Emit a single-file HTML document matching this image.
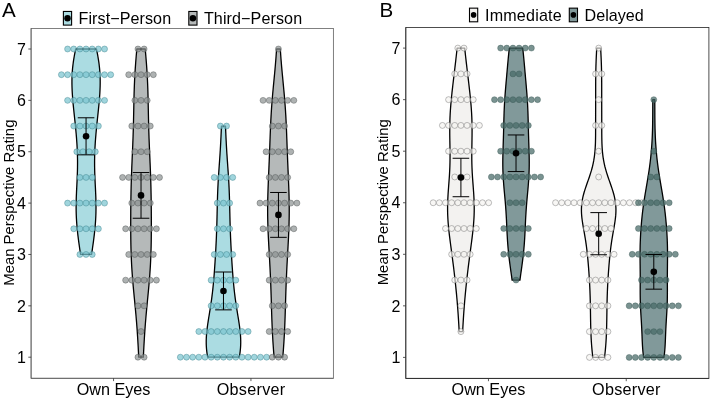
<!DOCTYPE html>
<html><head><meta charset="utf-8"><title>Figure</title>
<style>
html,body{margin:0;padding:0;background:#fff;}
svg{display:block;will-change:transform;opacity:0.999;font-family:"Liberation Sans",Arial,Helvetica,sans-serif;}
</style></head><body>
<svg width="711" height="401" viewBox="0 0 711 401">
<rect width="711" height="401" fill="#fff"/>
<path d="M80.54,254.47 L80.36,253.17 L80.17,251.88 L79.98,250.59 L79.79,249.3 L79.6,248.01 L79.42,246.71 L79.24,245.42 L79.06,244.13 L78.88,242.84 L78.7,241.54 L78.53,240.25 L78.36,238.96 L78.2,237.67 L78.04,236.38 L77.88,235.08 L77.73,233.79 L77.59,232.5 L77.45,231.21 L77.32,229.91 L77.19,228.62 L77.07,227.33 L76.95,226.04 L76.84,224.75 L76.74,223.45 L76.65,222.16 L76.56,220.87 L76.49,219.58 L76.41,218.28 L76.35,216.99 L76.3,215.7 L76.25,214.41 L76.21,213.11 L76.18,211.82 L76.15,210.53 L76.14,209.24 L76.13,207.95 L76.13,206.65 L76.13,205.36 L76.14,204.07 L76.16,202.78 L76.19,201.48 L76.22,200.19 L76.25,198.9 L76.29,197.61 L76.34,196.32 L76.39,195.02 L76.44,193.73 L76.5,192.44 L76.55,191.15 L76.62,189.85 L76.68,188.56 L76.74,187.27 L76.81,185.98 L76.87,184.69 L76.93,183.39 L77,182.1 L77.06,180.81 L77.12,179.52 L77.17,178.22 L77.23,176.93 L77.28,175.64 L77.32,174.35 L77.37,173.06 L77.41,171.76 L77.44,170.47 L77.47,169.18 L77.5,167.89 L77.51,166.59 L77.53,165.3 L77.54,164.01 L77.54,162.72 L77.54,161.43 L77.53,160.13 L77.51,158.84 L77.49,157.55 L77.46,156.26 L77.43,154.96 L77.39,153.67 L77.35,152.38 L77.3,151.09 L77.24,149.79 L77.18,148.5 L77.12,147.21 L77.05,145.92 L76.97,144.63 L76.89,143.33 L76.8,142.04 L76.71,140.75 L76.62,139.46 L76.52,138.16 L76.42,136.87 L76.31,135.58 L76.2,134.29 L76.09,133 L75.97,131.7 L75.85,130.41 L75.73,129.12 L75.6,127.83 L75.48,126.53 L75.35,125.24 L75.21,123.95 L75.08,122.66 L74.95,121.37 L74.81,120.07 L74.67,118.78 L74.54,117.49 L74.4,116.2 L74.26,114.9 L74.13,113.61 L73.99,112.32 L73.85,111.03 L73.72,109.74 L73.59,108.44 L73.46,107.15 L73.33,105.86 L73.2,104.57 L73.08,103.27 L72.97,101.98 L72.85,100.69 L72.74,99.4 L72.64,98.11 L72.54,96.81 L72.45,95.52 L72.36,94.23 L72.28,92.94 L72.21,91.64 L72.14,90.35 L72.09,89.06 L72.04,87.77 L72,86.48 L71.97,85.18 L71.95,83.89 L71.94,82.6 L71.94,81.31 L71.95,80.01 L71.97,78.72 L72.01,77.43 L72.05,76.14 L72.11,74.84 L72.18,73.55 L72.26,72.26 L72.35,70.97 L72.46,69.68 L72.57,68.38 L72.7,67.09 L72.85,65.8 L73,64.51 L73.17,63.21 L73.34,61.92 L73.53,60.63 L73.73,59.34 L73.94,58.05 L74.17,56.75 L74.4,55.46 L74.64,54.17 L74.89,52.88 L75.14,51.58 L75.41,50.29 L75.68,49 L96.44,49 L96.72,50.29 L96.98,51.58 L97.24,52.88 L97.49,54.17 L97.73,55.46 L97.96,56.75 L98.18,58.05 L98.39,59.34 L98.59,60.63 L98.78,61.92 L98.96,63.21 L99.13,64.51 L99.28,65.8 L99.42,67.09 L99.55,68.38 L99.67,69.68 L99.78,70.97 L99.87,72.26 L99.95,73.55 L100.02,74.84 L100.08,76.14 L100.12,77.43 L100.16,78.72 L100.18,80.01 L100.19,81.31 L100.19,82.6 L100.18,83.89 L100.16,85.18 L100.13,86.48 L100.09,87.77 L100.04,89.06 L99.98,90.35 L99.92,91.64 L99.85,92.94 L99.77,94.23 L99.68,95.52 L99.59,96.81 L99.49,98.11 L99.38,99.4 L99.28,100.69 L99.16,101.98 L99.04,103.27 L98.92,104.57 L98.8,105.86 L98.67,107.15 L98.54,108.44 L98.41,109.74 L98.27,111.03 L98.14,112.32 L98,113.61 L97.86,114.9 L97.73,116.2 L97.59,117.49 L97.45,118.78 L97.32,120.07 L97.18,121.37 L97.05,122.66 L96.91,123.95 L96.78,125.24 L96.65,126.53 L96.52,127.83 L96.4,129.12 L96.28,130.41 L96.16,131.7 L96.04,133 L95.93,134.29 L95.82,135.58 L95.71,136.87 L95.61,138.16 L95.51,139.46 L95.41,140.75 L95.32,142.04 L95.24,143.33 L95.16,144.63 L95.08,145.92 L95.01,147.21 L94.94,148.5 L94.88,149.79 L94.83,151.09 L94.78,152.38 L94.73,153.67 L94.7,154.96 L94.66,156.26 L94.64,157.55 L94.62,158.84 L94.6,160.13 L94.59,161.43 L94.59,162.72 L94.59,164.01 L94.6,165.3 L94.61,166.59 L94.63,167.89 L94.66,169.18 L94.69,170.47 L94.72,171.76 L94.76,173.06 L94.8,174.35 L94.85,175.64 L94.9,176.93 L94.95,178.22 L95.01,179.52 L95.07,180.81 L95.13,182.1 L95.19,183.39 L95.26,184.69 L95.32,185.98 L95.39,187.27 L95.45,188.56 L95.51,189.85 L95.57,191.15 L95.63,192.44 L95.69,193.73 L95.74,195.02 L95.79,196.32 L95.84,197.61 L95.88,198.9 L95.91,200.19 L95.94,201.48 L95.97,202.78 L95.98,204.07 L96,205.36 L96,206.65 L96,207.95 L95.99,209.24 L95.97,210.53 L95.95,211.82 L95.92,213.11 L95.88,214.41 L95.83,215.7 L95.78,216.99 L95.71,218.28 L95.64,219.58 L95.56,220.87 L95.48,222.16 L95.38,223.45 L95.28,224.75 L95.18,226.04 L95.06,227.33 L94.94,228.62 L94.81,229.91 L94.68,231.21 L94.54,232.5 L94.39,233.79 L94.24,235.08 L94.09,236.38 L93.93,237.67 L93.76,238.96 L93.6,240.25 L93.42,241.54 L93.25,242.84 L93.07,244.13 L92.89,245.42 L92.71,246.71 L92.52,248.01 L92.34,249.3 L92.15,250.59 L91.96,251.88 L91.77,253.17 L91.58,254.47Z" fill="#abdce2" stroke="#000" stroke-width="1.3" stroke-linejoin="round"/>
<path d="M138.71,357.2 L138.61,355.26 L138.52,353.32 L138.42,351.38 L138.32,349.45 L138.22,347.51 L138.11,345.57 L138.01,343.63 L137.89,341.69 L137.78,339.75 L137.66,337.82 L137.54,335.88 L137.41,333.94 L137.28,332 L137.15,330.06 L137.01,328.12 L136.86,326.19 L136.71,324.25 L136.56,322.31 L136.4,320.37 L136.24,318.43 L136.07,316.49 L135.9,314.56 L135.72,312.62 L135.55,310.68 L135.36,308.74 L135.18,306.8 L135,304.86 L134.81,302.93 L134.62,300.99 L134.43,299.05 L134.24,297.11 L134.05,295.17 L133.87,293.23 L133.68,291.3 L133.5,289.36 L133.32,287.42 L133.15,285.48 L132.98,283.54 L132.81,281.6 L132.65,279.67 L132.5,277.73 L132.35,275.79 L132.21,273.85 L132.07,271.91 L131.94,269.97 L131.82,268.04 L131.7,266.1 L131.6,264.16 L131.5,262.22 L131.4,260.28 L131.32,258.34 L131.24,256.41 L131.16,254.47 L131.1,252.53 L131.04,250.59 L130.98,248.65 L130.94,246.71 L130.89,244.77 L130.86,242.84 L130.83,240.9 L130.8,238.96 L130.78,237.02 L130.76,235.08 L130.74,233.14 L130.73,231.21 L130.72,229.27 L130.72,227.33 L130.71,225.39 L130.71,223.45 L130.72,221.51 L130.72,219.58 L130.73,217.64 L130.74,215.7 L130.75,213.76 L130.76,211.82 L130.77,209.88 L130.79,207.95 L130.81,206.01 L130.83,204.07 L130.85,202.13 L130.88,200.19 L130.91,198.25 L130.94,196.32 L130.98,194.38 L131.01,192.44 L131.05,190.5 L131.1,188.56 L131.14,186.62 L131.19,184.69 L131.25,182.75 L131.31,180.81 L131.37,178.87 L131.43,176.93 L131.5,174.99 L131.57,173.06 L131.64,171.12 L131.72,169.18 L131.79,167.24 L131.87,165.3 L131.96,163.36 L132.04,161.43 L132.12,159.49 L132.21,157.55 L132.29,155.61 L132.38,153.67 L132.46,151.73 L132.55,149.79 L132.63,147.86 L132.71,145.92 L132.79,143.98 L132.86,142.04 L132.94,140.1 L133.01,138.16 L133.08,136.23 L133.14,134.29 L133.21,132.35 L133.27,130.41 L133.32,128.47 L133.38,126.53 L133.43,124.6 L133.47,122.66 L133.52,120.72 L133.56,118.78 L133.6,116.84 L133.64,114.9 L133.68,112.97 L133.72,111.03 L133.76,109.09 L133.79,107.15 L133.83,105.21 L133.87,103.27 L133.91,101.34 L133.95,99.4 L134,97.46 L134.05,95.52 L134.1,93.58 L134.16,91.64 L134.22,89.71 L134.28,87.77 L134.36,85.83 L134.43,83.89 L134.52,81.95 L134.6,80.01 L134.7,78.08 L134.8,76.14 L134.91,74.2 L135.02,72.26 L135.15,70.32 L135.27,68.38 L135.41,66.45 L135.55,64.51 L135.69,62.57 L135.84,60.63 L136,58.69 L136.16,56.75 L136.32,54.82 L136.49,52.88 L136.66,50.94 L136.83,49 L145.22,49 L145.39,50.94 L145.56,52.88 L145.73,54.82 L145.89,56.75 L146.05,58.69 L146.21,60.63 L146.36,62.57 L146.51,64.51 L146.65,66.45 L146.78,68.38 L146.91,70.32 L147.03,72.26 L147.14,74.2 L147.25,76.14 L147.36,78.08 L147.45,80.01 L147.54,81.95 L147.62,83.89 L147.7,85.83 L147.77,87.77 L147.84,89.71 L147.9,91.64 L147.95,93.58 L148.01,95.52 L148.05,97.46 L148.1,99.4 L148.14,101.34 L148.18,103.27 L148.22,105.21 L148.26,107.15 L148.3,109.09 L148.34,111.03 L148.37,112.97 L148.41,114.9 L148.45,116.84 L148.49,118.78 L148.54,120.72 L148.58,122.66 L148.63,124.6 L148.68,126.53 L148.73,128.47 L148.79,130.41 L148.85,132.35 L148.91,134.29 L148.98,136.23 L149.04,138.16 L149.12,140.1 L149.19,142.04 L149.27,143.98 L149.35,145.92 L149.43,147.86 L149.51,149.79 L149.59,151.73 L149.68,153.67 L149.76,155.61 L149.85,157.55 L149.93,159.49 L150.01,161.43 L150.1,163.36 L150.18,165.3 L150.26,167.24 L150.34,169.18 L150.41,171.12 L150.49,173.06 L150.56,174.99 L150.62,176.93 L150.69,178.87 L150.75,180.81 L150.81,182.75 L150.86,184.69 L150.91,186.62 L150.96,188.56 L151,190.5 L151.04,192.44 L151.08,194.38 L151.11,196.32 L151.15,198.25 L151.17,200.19 L151.2,202.13 L151.22,204.07 L151.24,206.01 L151.26,207.95 L151.28,209.88 L151.3,211.82 L151.31,213.76 L151.32,215.7 L151.33,217.64 L151.33,219.58 L151.34,221.51 L151.34,223.45 L151.34,225.39 L151.34,227.33 L151.33,229.27 L151.32,231.21 L151.31,233.14 L151.3,235.08 L151.28,237.02 L151.26,238.96 L151.23,240.9 L151.2,242.84 L151.16,244.77 L151.12,246.71 L151.07,248.65 L151.02,250.59 L150.96,252.53 L150.89,254.47 L150.82,256.41 L150.74,258.34 L150.65,260.28 L150.56,262.22 L150.46,264.16 L150.35,266.1 L150.24,268.04 L150.11,269.97 L149.98,271.91 L149.85,273.85 L149.71,275.79 L149.56,277.73 L149.4,279.67 L149.24,281.6 L149.08,283.54 L148.91,285.48 L148.73,287.42 L148.55,289.36 L148.37,291.3 L148.19,293.23 L148,295.17 L147.81,297.11 L147.62,299.05 L147.43,300.99 L147.25,302.93 L147.06,304.86 L146.87,306.8 L146.69,308.74 L146.51,310.68 L146.33,312.62 L146.16,314.56 L145.98,316.49 L145.82,318.43 L145.65,320.37 L145.5,322.31 L145.34,324.25 L145.19,326.19 L145.05,328.12 L144.91,330.06 L144.77,332 L144.64,333.94 L144.52,335.88 L144.39,337.82 L144.28,339.75 L144.16,341.69 L144.05,343.63 L143.94,345.57 L143.84,347.51 L143.73,349.45 L143.63,351.38 L143.54,353.32 L143.44,355.26 L143.35,357.2Z" fill="#b5b9b9" stroke="#000" stroke-width="1.3" stroke-linejoin="round"/>
<path d="M207.68,357.2 L207.41,355.75 L207.17,354.29 L206.96,352.84 L206.77,351.38 L206.61,349.93 L206.48,348.48 L206.38,347.02 L206.3,345.57 L206.25,344.12 L206.23,342.66 L206.23,341.21 L206.25,339.75 L206.3,338.3 L206.37,336.85 L206.46,335.39 L206.57,333.94 L206.7,332.49 L206.85,331.03 L207.01,329.58 L207.19,328.12 L207.38,326.67 L207.58,325.22 L207.79,323.76 L208.01,322.31 L208.23,320.86 L208.46,319.4 L208.69,317.95 L208.93,316.49 L209.17,315.04 L209.4,313.59 L209.64,312.13 L209.88,310.68 L210.11,309.23 L210.34,307.77 L210.56,306.32 L210.79,304.86 L211,303.41 L211.21,301.96 L211.42,300.5 L211.62,299.05 L211.81,297.6 L212,296.14 L212.18,294.69 L212.36,293.23 L212.53,291.78 L212.7,290.33 L212.85,288.87 L213.01,287.42 L213.15,285.97 L213.3,284.51 L213.44,283.06 L213.57,281.6 L213.7,280.15 L213.82,278.7 L213.94,277.24 L214.06,275.79 L214.18,274.33 L214.29,272.88 L214.39,271.43 L214.5,269.97 L214.6,268.52 L214.71,267.07 L214.8,265.61 L214.9,264.16 L215,262.7 L215.09,261.25 L215.18,259.8 L215.27,258.34 L215.36,256.89 L215.45,255.44 L215.53,253.98 L215.61,252.53 L215.7,251.07 L215.78,249.62 L215.85,248.17 L215.93,246.71 L216,245.26 L216.08,243.81 L216.15,242.35 L216.22,240.9 L216.28,239.44 L216.35,237.99 L216.41,236.54 L216.47,235.08 L216.52,233.63 L216.58,232.18 L216.63,230.72 L216.68,229.27 L216.73,227.81 L216.77,226.36 L216.82,224.91 L216.86,223.45 L216.9,222 L216.94,220.55 L216.97,219.09 L217.01,217.64 L217.04,216.18 L217.08,214.73 L217.11,213.28 L217.14,211.82 L217.17,210.37 L217.21,208.92 L217.24,207.46 L217.27,206.01 L217.31,204.55 L217.34,203.1 L217.38,201.65 L217.42,200.19 L217.46,198.74 L217.51,197.28 L217.55,195.83 L217.6,194.38 L217.66,192.92 L217.71,191.47 L217.77,190.02 L217.83,188.56 L217.9,187.11 L217.97,185.65 L218.05,184.2 L218.12,182.75 L218.2,181.29 L218.29,179.84 L218.37,178.39 L218.46,176.93 L218.56,175.48 L218.65,174.02 L218.75,172.57 L218.85,171.12 L218.95,169.66 L219.05,168.21 L219.15,166.76 L219.25,165.3 L219.36,163.85 L219.46,162.39 L219.56,160.94 L219.66,159.49 L219.76,158.03 L219.86,156.58 L219.96,155.13 L220.05,153.67 L220.14,152.22 L220.24,150.76 L220.32,149.31 L220.41,147.86 L220.49,146.4 L220.57,144.95 L220.65,143.5 L220.73,142.04 L220.8,140.59 L220.87,139.13 L220.94,137.68 L221.01,136.23 L221.07,134.77 L221.14,133.32 L221.2,131.87 L221.26,130.41 L221.32,128.96 L221.38,127.5 L221.44,126.05 L225.5,126.05 L225.56,127.5 L225.62,128.96 L225.68,130.41 L225.74,131.87 L225.81,133.32 L225.87,134.77 L225.94,136.23 L226,137.68 L226.07,139.13 L226.14,140.59 L226.22,142.04 L226.29,143.5 L226.37,144.95 L226.45,146.4 L226.54,147.86 L226.62,149.31 L226.71,150.76 L226.8,152.22 L226.89,153.67 L226.99,155.13 L227.09,156.58 L227.18,158.03 L227.28,159.49 L227.38,160.94 L227.49,162.39 L227.59,163.85 L227.69,165.3 L227.79,166.76 L227.9,168.21 L228,169.66 L228.1,171.12 L228.2,172.57 L228.29,174.02 L228.39,175.48 L228.48,176.93 L228.57,178.39 L228.66,179.84 L228.74,181.29 L228.82,182.75 L228.9,184.2 L228.97,185.65 L229.04,187.11 L229.11,188.56 L229.17,190.02 L229.23,191.47 L229.29,192.92 L229.34,194.38 L229.39,195.83 L229.44,197.28 L229.48,198.74 L229.52,200.19 L229.56,201.65 L229.6,203.1 L229.64,204.55 L229.67,206.01 L229.71,207.46 L229.74,208.92 L229.77,210.37 L229.8,211.82 L229.84,213.28 L229.87,214.73 L229.9,216.18 L229.94,217.64 L229.97,219.09 L230.01,220.55 L230.05,222 L230.09,223.45 L230.13,224.91 L230.17,226.36 L230.22,227.81 L230.27,229.27 L230.32,230.72 L230.37,232.18 L230.42,233.63 L230.48,235.08 L230.54,236.54 L230.6,237.99 L230.66,239.44 L230.73,240.9 L230.8,242.35 L230.87,243.81 L230.94,245.26 L231.02,246.71 L231.09,248.17 L231.17,249.62 L231.25,251.07 L231.33,252.53 L231.41,253.98 L231.5,255.44 L231.59,256.89 L231.67,258.34 L231.76,259.8 L231.86,261.25 L231.95,262.7 L232.04,264.16 L232.14,265.61 L232.24,267.07 L232.34,268.52 L232.44,269.97 L232.55,271.43 L232.66,272.88 L232.77,274.33 L232.88,275.79 L233,277.24 L233.12,278.7 L233.25,280.15 L233.38,281.6 L233.51,283.06 L233.65,284.51 L233.79,285.97 L233.94,287.42 L234.09,288.87 L234.25,290.33 L234.41,291.78 L234.58,293.23 L234.76,294.69 L234.94,296.14 L235.13,297.6 L235.33,299.05 L235.53,300.5 L235.73,301.96 L235.94,303.41 L236.16,304.86 L236.38,306.32 L236.61,307.77 L236.84,309.23 L237.07,310.68 L237.31,312.13 L237.54,313.59 L237.78,315.04 L238.02,316.49 L238.25,317.95 L238.49,319.4 L238.72,320.86 L238.94,322.31 L239.16,323.76 L239.37,325.22 L239.57,326.67 L239.75,328.12 L239.93,329.58 L240.09,331.03 L240.24,332.49 L240.37,333.94 L240.48,335.39 L240.58,336.85 L240.65,338.3 L240.69,339.75 L240.72,341.21 L240.72,342.66 L240.7,344.12 L240.65,345.57 L240.57,347.02 L240.46,348.48 L240.33,349.93 L240.17,351.38 L239.99,352.84 L239.77,354.29 L239.53,355.75 L239.27,357.2Z" fill="#abdce2" stroke="#000" stroke-width="1.3" stroke-linejoin="round"/>
<path d="M274.07,357.2 L273.92,355.26 L273.77,353.32 L273.62,351.38 L273.47,349.45 L273.33,347.51 L273.2,345.57 L273.07,343.63 L272.94,341.69 L272.82,339.75 L272.71,337.82 L272.6,335.88 L272.49,333.94 L272.4,332 L272.3,330.06 L272.21,328.12 L272.13,326.19 L272.05,324.25 L271.97,322.31 L271.9,320.37 L271.83,318.43 L271.77,316.49 L271.7,314.56 L271.64,312.62 L271.58,310.68 L271.52,308.74 L271.47,306.8 L271.41,304.86 L271.35,302.93 L271.29,300.99 L271.24,299.05 L271.18,297.11 L271.12,295.17 L271.05,293.23 L270.99,291.3 L270.92,289.36 L270.86,287.42 L270.79,285.48 L270.71,283.54 L270.64,281.6 L270.56,279.67 L270.47,277.73 L270.39,275.79 L270.3,273.85 L270.21,271.91 L270.12,269.97 L270.02,268.04 L269.92,266.1 L269.82,264.16 L269.72,262.22 L269.61,260.28 L269.51,258.34 L269.4,256.41 L269.29,254.47 L269.18,252.53 L269.07,250.59 L268.96,248.65 L268.86,246.71 L268.75,244.77 L268.65,242.84 L268.54,240.9 L268.45,238.96 L268.35,237.02 L268.26,235.08 L268.17,233.14 L268.09,231.21 L268.02,229.27 L267.95,227.33 L267.88,225.39 L267.83,223.45 L267.78,221.51 L267.74,219.58 L267.7,217.64 L267.67,215.7 L267.66,213.76 L267.65,211.82 L267.64,209.88 L267.65,207.95 L267.66,206.01 L267.68,204.07 L267.71,202.13 L267.74,200.19 L267.78,198.25 L267.83,196.32 L267.88,194.38 L267.94,192.44 L268,190.5 L268.07,188.56 L268.14,186.62 L268.21,184.69 L268.29,182.75 L268.37,180.81 L268.45,178.87 L268.53,176.93 L268.61,174.99 L268.7,173.06 L268.78,171.12 L268.87,169.18 L268.95,167.24 L269.03,165.3 L269.11,163.36 L269.19,161.43 L269.27,159.49 L269.35,157.55 L269.43,155.61 L269.5,153.67 L269.58,151.73 L269.65,149.79 L269.72,147.86 L269.8,145.92 L269.87,143.98 L269.94,142.04 L270.01,140.1 L270.08,138.16 L270.15,136.23 L270.22,134.29 L270.3,132.35 L270.38,130.41 L270.46,128.47 L270.54,126.53 L270.63,124.6 L270.72,122.66 L270.81,120.72 L270.91,118.78 L271.02,116.84 L271.13,114.9 L271.24,112.97 L271.36,111.03 L271.49,109.09 L271.62,107.15 L271.76,105.21 L271.91,103.27 L272.06,101.34 L272.22,99.4 L272.38,97.46 L272.54,95.52 L272.71,93.58 L272.89,91.64 L273.07,89.71 L273.25,87.77 L273.43,85.83 L273.62,83.89 L273.8,81.95 L273.99,80.01 L274.18,78.08 L274.36,76.14 L274.55,74.2 L274.73,72.26 L274.91,70.32 L275.08,68.38 L275.25,66.45 L275.42,64.51 L275.58,62.57 L275.74,60.63 L275.89,58.69 L276.04,56.75 L276.18,54.82 L276.32,52.88 L276.45,50.94 L276.57,49 L280.3,49 L280.43,50.94 L280.56,52.88 L280.69,54.82 L280.83,56.75 L280.98,58.69 L281.13,60.63 L281.29,62.57 L281.45,64.51 L281.62,66.45 L281.79,68.38 L281.97,70.32 L282.15,72.26 L282.33,74.2 L282.51,76.14 L282.7,78.08 L282.88,80.01 L283.07,81.95 L283.25,83.89 L283.44,85.83 L283.62,87.77 L283.8,89.71 L283.98,91.64 L284.16,93.58 L284.33,95.52 L284.5,97.46 L284.66,99.4 L284.81,101.34 L284.96,103.27 L285.11,105.21 L285.25,107.15 L285.38,109.09 L285.51,111.03 L285.63,112.97 L285.75,114.9 L285.86,116.84 L285.96,118.78 L286.06,120.72 L286.16,122.66 L286.25,124.6 L286.33,126.53 L286.42,128.47 L286.5,130.41 L286.57,132.35 L286.65,134.29 L286.72,136.23 L286.79,138.16 L286.87,140.1 L286.94,142.04 L287.01,143.98 L287.08,145.92 L287.15,147.86 L287.22,149.79 L287.29,151.73 L287.37,153.67 L287.44,155.61 L287.52,157.55 L287.6,159.49 L287.68,161.43 L287.76,163.36 L287.84,165.3 L287.92,167.24 L288.01,169.18 L288.09,171.12 L288.17,173.06 L288.26,174.99 L288.34,176.93 L288.42,178.87 L288.51,180.81 L288.58,182.75 L288.66,184.69 L288.74,186.62 L288.81,188.56 L288.87,190.5 L288.94,192.44 L288.99,194.38 L289.05,196.32 L289.09,198.25 L289.13,200.19 L289.17,202.13 L289.19,204.07 L289.21,206.01 L289.23,207.95 L289.23,209.88 L289.23,211.82 L289.22,213.76 L289.2,215.7 L289.17,217.64 L289.14,219.58 L289.09,221.51 L289.05,223.45 L288.99,225.39 L288.93,227.33 L288.86,229.27 L288.78,231.21 L288.7,233.14 L288.61,235.08 L288.52,237.02 L288.43,238.96 L288.33,240.9 L288.23,242.84 L288.12,244.77 L288.02,246.71 L287.91,248.65 L287.8,250.59 L287.69,252.53 L287.58,254.47 L287.48,256.41 L287.37,258.34 L287.26,260.28 L287.16,262.22 L287.05,264.16 L286.95,266.1 L286.85,268.04 L286.76,269.97 L286.66,271.91 L286.57,273.85 L286.48,275.79 L286.4,277.73 L286.32,279.67 L286.24,281.6 L286.16,283.54 L286.09,285.48 L286.02,287.42 L285.95,289.36 L285.88,291.3 L285.82,293.23 L285.76,295.17 L285.7,297.11 L285.64,299.05 L285.58,300.99 L285.52,302.93 L285.46,304.86 L285.41,306.8 L285.35,308.74 L285.29,310.68 L285.23,312.62 L285.17,314.56 L285.11,316.49 L285.04,318.43 L284.97,320.37 L284.9,322.31 L284.82,324.25 L284.74,326.19 L284.66,328.12 L284.57,330.06 L284.48,332 L284.38,333.94 L284.27,335.88 L284.16,337.82 L284.05,339.75 L283.93,341.69 L283.81,343.63 L283.68,345.57 L283.54,347.51 L283.4,349.45 L283.26,351.38 L283.11,353.32 L282.95,355.26 L282.8,357.2Z" fill="#b5b9b9" stroke="#000" stroke-width="1.3" stroke-linejoin="round"/>
<g fill="rgba(124,197,208,0.72)" stroke="rgba(55,125,135,0.7)" stroke-width="0.6">
<circle cx="67.58" cy="49" r="2.98"/>
<circle cx="73.74" cy="49" r="2.98"/>
<circle cx="79.9" cy="49" r="2.98"/>
<circle cx="86.06" cy="49" r="2.98"/>
<circle cx="92.22" cy="49" r="2.98"/>
<circle cx="98.38" cy="49" r="2.98"/>
<circle cx="104.54" cy="49" r="2.98"/>
<circle cx="61.42" cy="74.68" r="2.98"/>
<circle cx="67.58" cy="74.68" r="2.98"/>
<circle cx="73.74" cy="74.68" r="2.98"/>
<circle cx="79.9" cy="74.68" r="2.98"/>
<circle cx="86.06" cy="74.68" r="2.98"/>
<circle cx="92.22" cy="74.68" r="2.98"/>
<circle cx="98.38" cy="74.68" r="2.98"/>
<circle cx="104.54" cy="74.68" r="2.98"/>
<circle cx="110.7" cy="74.68" r="2.98"/>
<circle cx="67.58" cy="100.37" r="2.98"/>
<circle cx="73.74" cy="100.37" r="2.98"/>
<circle cx="79.9" cy="100.37" r="2.98"/>
<circle cx="86.06" cy="100.37" r="2.98"/>
<circle cx="92.22" cy="100.37" r="2.98"/>
<circle cx="98.38" cy="100.37" r="2.98"/>
<circle cx="104.54" cy="100.37" r="2.98"/>
<circle cx="73.74" cy="126.05" r="2.98"/>
<circle cx="79.9" cy="126.05" r="2.98"/>
<circle cx="86.06" cy="126.05" r="2.98"/>
<circle cx="92.22" cy="126.05" r="2.98"/>
<circle cx="98.38" cy="126.05" r="2.98"/>
<circle cx="76.82" cy="151.73" r="2.98"/>
<circle cx="82.98" cy="151.73" r="2.98"/>
<circle cx="89.14" cy="151.73" r="2.98"/>
<circle cx="95.3" cy="151.73" r="2.98"/>
<circle cx="79.9" cy="177.42" r="2.98"/>
<circle cx="86.06" cy="177.42" r="2.98"/>
<circle cx="92.22" cy="177.42" r="2.98"/>
<circle cx="67.58" cy="203.1" r="2.98"/>
<circle cx="73.74" cy="203.1" r="2.98"/>
<circle cx="79.9" cy="203.1" r="2.98"/>
<circle cx="86.06" cy="203.1" r="2.98"/>
<circle cx="92.22" cy="203.1" r="2.98"/>
<circle cx="98.38" cy="203.1" r="2.98"/>
<circle cx="104.54" cy="203.1" r="2.98"/>
<circle cx="73.74" cy="228.78" r="2.98"/>
<circle cx="79.9" cy="228.78" r="2.98"/>
<circle cx="86.06" cy="228.78" r="2.98"/>
<circle cx="92.22" cy="228.78" r="2.98"/>
<circle cx="98.38" cy="228.78" r="2.98"/>
<circle cx="79.9" cy="254.47" r="2.98"/>
<circle cx="86.06" cy="254.47" r="2.98"/>
<circle cx="92.22" cy="254.47" r="2.98"/>
</g>
<g fill="rgba(140,146,146,0.7)" stroke="rgba(75,80,80,0.7)" stroke-width="0.6">
<circle cx="137.95" cy="49" r="2.98"/>
<circle cx="144.11" cy="49" r="2.98"/>
<circle cx="128.71" cy="74.68" r="2.98"/>
<circle cx="134.87" cy="74.68" r="2.98"/>
<circle cx="141.03" cy="74.68" r="2.98"/>
<circle cx="147.19" cy="74.68" r="2.98"/>
<circle cx="153.35" cy="74.68" r="2.98"/>
<circle cx="134.87" cy="100.37" r="2.98"/>
<circle cx="141.03" cy="100.37" r="2.98"/>
<circle cx="147.19" cy="100.37" r="2.98"/>
<circle cx="131.79" cy="126.05" r="2.98"/>
<circle cx="137.95" cy="126.05" r="2.98"/>
<circle cx="144.11" cy="126.05" r="2.98"/>
<circle cx="150.27" cy="126.05" r="2.98"/>
<circle cx="134.87" cy="151.73" r="2.98"/>
<circle cx="141.03" cy="151.73" r="2.98"/>
<circle cx="147.19" cy="151.73" r="2.98"/>
<circle cx="122.55" cy="177.42" r="2.98"/>
<circle cx="128.71" cy="177.42" r="2.98"/>
<circle cx="134.87" cy="177.42" r="2.98"/>
<circle cx="141.03" cy="177.42" r="2.98"/>
<circle cx="147.19" cy="177.42" r="2.98"/>
<circle cx="153.35" cy="177.42" r="2.98"/>
<circle cx="159.51" cy="177.42" r="2.98"/>
<circle cx="131.79" cy="203.1" r="2.98"/>
<circle cx="137.95" cy="203.1" r="2.98"/>
<circle cx="144.11" cy="203.1" r="2.98"/>
<circle cx="150.27" cy="203.1" r="2.98"/>
<circle cx="125.63" cy="228.78" r="2.98"/>
<circle cx="131.79" cy="228.78" r="2.98"/>
<circle cx="137.95" cy="228.78" r="2.98"/>
<circle cx="144.11" cy="228.78" r="2.98"/>
<circle cx="150.27" cy="228.78" r="2.98"/>
<circle cx="156.43" cy="228.78" r="2.98"/>
<circle cx="128.71" cy="254.47" r="2.98"/>
<circle cx="134.87" cy="254.47" r="2.98"/>
<circle cx="141.03" cy="254.47" r="2.98"/>
<circle cx="147.19" cy="254.47" r="2.98"/>
<circle cx="153.35" cy="254.47" r="2.98"/>
<circle cx="125.63" cy="280.15" r="2.98"/>
<circle cx="131.79" cy="280.15" r="2.98"/>
<circle cx="137.95" cy="280.15" r="2.98"/>
<circle cx="144.11" cy="280.15" r="2.98"/>
<circle cx="150.27" cy="280.15" r="2.98"/>
<circle cx="156.43" cy="280.15" r="2.98"/>
<circle cx="137.95" cy="305.83" r="2.98"/>
<circle cx="144.11" cy="305.83" r="2.98"/>
<circle cx="141.03" cy="331.52" r="2.98"/>
<circle cx="137.95" cy="357.2" r="2.98"/>
<circle cx="144.11" cy="357.2" r="2.98"/>
</g>
<g fill="rgba(124,197,208,0.72)" stroke="rgba(55,125,135,0.7)" stroke-width="0.6">
<circle cx="220.39" cy="126.05" r="2.98"/>
<circle cx="226.55" cy="126.05" r="2.98"/>
<circle cx="214.23" cy="177.42" r="2.98"/>
<circle cx="220.39" cy="177.42" r="2.98"/>
<circle cx="226.55" cy="177.42" r="2.98"/>
<circle cx="232.71" cy="177.42" r="2.98"/>
<circle cx="217.31" cy="203.1" r="2.98"/>
<circle cx="223.47" cy="203.1" r="2.98"/>
<circle cx="229.63" cy="203.1" r="2.98"/>
<circle cx="217.31" cy="228.78" r="2.98"/>
<circle cx="223.47" cy="228.78" r="2.98"/>
<circle cx="229.63" cy="228.78" r="2.98"/>
<circle cx="214.23" cy="254.47" r="2.98"/>
<circle cx="220.39" cy="254.47" r="2.98"/>
<circle cx="226.55" cy="254.47" r="2.98"/>
<circle cx="232.71" cy="254.47" r="2.98"/>
<circle cx="211.15" cy="280.15" r="2.98"/>
<circle cx="217.31" cy="280.15" r="2.98"/>
<circle cx="223.47" cy="280.15" r="2.98"/>
<circle cx="229.63" cy="280.15" r="2.98"/>
<circle cx="235.79" cy="280.15" r="2.98"/>
<circle cx="211.15" cy="305.83" r="2.98"/>
<circle cx="217.31" cy="305.83" r="2.98"/>
<circle cx="223.47" cy="305.83" r="2.98"/>
<circle cx="229.63" cy="305.83" r="2.98"/>
<circle cx="235.79" cy="305.83" r="2.98"/>
<circle cx="198.83" cy="331.52" r="2.98"/>
<circle cx="204.99" cy="331.52" r="2.98"/>
<circle cx="211.15" cy="331.52" r="2.98"/>
<circle cx="217.31" cy="331.52" r="2.98"/>
<circle cx="223.47" cy="331.52" r="2.98"/>
<circle cx="229.63" cy="331.52" r="2.98"/>
<circle cx="235.79" cy="331.52" r="2.98"/>
<circle cx="241.95" cy="331.52" r="2.98"/>
<circle cx="248.11" cy="331.52" r="2.98"/>
<circle cx="180.35" cy="357.2" r="2.98"/>
<circle cx="186.51" cy="357.2" r="2.98"/>
<circle cx="192.67" cy="357.2" r="2.98"/>
<circle cx="198.83" cy="357.2" r="2.98"/>
<circle cx="204.99" cy="357.2" r="2.98"/>
<circle cx="211.15" cy="357.2" r="2.98"/>
<circle cx="217.31" cy="357.2" r="2.98"/>
<circle cx="223.47" cy="357.2" r="2.98"/>
<circle cx="229.63" cy="357.2" r="2.98"/>
<circle cx="235.79" cy="357.2" r="2.98"/>
<circle cx="241.95" cy="357.2" r="2.98"/>
<circle cx="248.11" cy="357.2" r="2.98"/>
<circle cx="254.27" cy="357.2" r="2.98"/>
<circle cx="260.43" cy="357.2" r="2.98"/>
<circle cx="266.59" cy="357.2" r="2.98"/>
</g>
<g fill="rgba(140,146,146,0.7)" stroke="rgba(75,80,80,0.7)" stroke-width="0.6">
<circle cx="278.44" cy="49" r="2.98"/>
<circle cx="263.04" cy="100.37" r="2.98"/>
<circle cx="269.2" cy="100.37" r="2.98"/>
<circle cx="275.36" cy="100.37" r="2.98"/>
<circle cx="281.52" cy="100.37" r="2.98"/>
<circle cx="287.68" cy="100.37" r="2.98"/>
<circle cx="293.84" cy="100.37" r="2.98"/>
<circle cx="272.28" cy="126.05" r="2.98"/>
<circle cx="278.44" cy="126.05" r="2.98"/>
<circle cx="284.6" cy="126.05" r="2.98"/>
<circle cx="266.12" cy="151.73" r="2.98"/>
<circle cx="272.28" cy="151.73" r="2.98"/>
<circle cx="278.44" cy="151.73" r="2.98"/>
<circle cx="284.6" cy="151.73" r="2.98"/>
<circle cx="290.76" cy="151.73" r="2.98"/>
<circle cx="269.2" cy="177.42" r="2.98"/>
<circle cx="275.36" cy="177.42" r="2.98"/>
<circle cx="281.52" cy="177.42" r="2.98"/>
<circle cx="287.68" cy="177.42" r="2.98"/>
<circle cx="259.96" cy="203.1" r="2.98"/>
<circle cx="266.12" cy="203.1" r="2.98"/>
<circle cx="272.28" cy="203.1" r="2.98"/>
<circle cx="278.44" cy="203.1" r="2.98"/>
<circle cx="284.6" cy="203.1" r="2.98"/>
<circle cx="290.76" cy="203.1" r="2.98"/>
<circle cx="296.92" cy="203.1" r="2.98"/>
<circle cx="263.04" cy="228.78" r="2.98"/>
<circle cx="269.2" cy="228.78" r="2.98"/>
<circle cx="275.36" cy="228.78" r="2.98"/>
<circle cx="281.52" cy="228.78" r="2.98"/>
<circle cx="287.68" cy="228.78" r="2.98"/>
<circle cx="293.84" cy="228.78" r="2.98"/>
<circle cx="269.2" cy="254.47" r="2.98"/>
<circle cx="275.36" cy="254.47" r="2.98"/>
<circle cx="281.52" cy="254.47" r="2.98"/>
<circle cx="287.68" cy="254.47" r="2.98"/>
<circle cx="269.2" cy="280.15" r="2.98"/>
<circle cx="275.36" cy="280.15" r="2.98"/>
<circle cx="281.52" cy="280.15" r="2.98"/>
<circle cx="287.68" cy="280.15" r="2.98"/>
<circle cx="272.28" cy="305.83" r="2.98"/>
<circle cx="278.44" cy="305.83" r="2.98"/>
<circle cx="284.6" cy="305.83" r="2.98"/>
<circle cx="269.2" cy="331.52" r="2.98"/>
<circle cx="275.36" cy="331.52" r="2.98"/>
<circle cx="281.52" cy="331.52" r="2.98"/>
<circle cx="287.68" cy="331.52" r="2.98"/>
<circle cx="272.28" cy="357.2" r="2.98"/>
<circle cx="278.44" cy="357.2" r="2.98"/>
<circle cx="284.6" cy="357.2" r="2.98"/>
</g>
<path d="M77.76,117.79H94.36M77.76,154.85H94.36M86.06,117.79V154.85" fill="none" stroke="#000" stroke-width="1"/>
<circle cx="86.06" cy="136.32" r="3.3" fill="#000"/>
<path d="M132.73,172.55H149.33M132.73,218.24H149.33M141.03,172.55V218.24" fill="none" stroke="#000" stroke-width="1"/>
<circle cx="141.03" cy="195.39" r="3.3" fill="#000"/>
<path d="M215.17,272.01H231.77M215.17,309.86H231.77M223.47,272.01V309.86" fill="none" stroke="#000" stroke-width="1"/>
<circle cx="223.47" cy="290.94" r="3.3" fill="#000"/>
<path d="M270.14,192.48H286.74M270.14,237.34H286.74M278.44,192.48V237.34" fill="none" stroke="#000" stroke-width="1"/>
<circle cx="278.44" cy="214.91" r="3.3" fill="#000"/>
<rect x="31.1" y="28.5" width="302.3" height="349.8" fill="none" stroke="#6a6a6a" stroke-width="0.85"/>
<path d="M31.1,28.5V378.3H333.4" fill="none" stroke="#4a4a4a" stroke-width="0.6"/>
<path d="M28.3,357.2H31.1M28.3,305.83H31.1M28.3,254.47H31.1M28.3,203.1H31.1M28.3,151.73H31.1M28.3,100.37H31.1M28.3,49H31.1M113.55,378.3V381.1M250.95,378.3V381.1" stroke="#333" stroke-width="0.8" fill="none"/>
<g font-size="16" fill="#000" text-anchor="end">
<text x="25.8" y="362.9">1</text>
<text x="25.8" y="311.53">2</text>
<text x="25.8" y="260.17">3</text>
<text x="25.8" y="208.8">4</text>
<text x="25.8" y="157.43">5</text>
<text x="25.8" y="106.07">6</text>
<text x="25.8" y="54.7">7</text>
</g>
<g font-size="16.2" fill="#000" text-anchor="middle">
<text x="113.55" y="395.1">Own Eyes</text>
<text x="250.95" y="395.1" textLength="68.4">Observer</text>
</g>
<text transform="translate(13.8,202.65) rotate(-90)" font-size="14.9" textLength="166.2" text-anchor="middle" fill="#000">Mean Perspective Rating</text>
<text x="1.9" y="16.9" font-size="20.6" fill="#000">A</text>
<rect x="63.4" y="11.45" width="8.2" height="13.65" fill="#abdce2" stroke="#000" stroke-width="1.1"/>
<circle cx="67.5" cy="18.2" r="3.25" fill="#000"/>
<text x="78.5" y="24" font-size="16.1" textLength="92.6" fill="#000">First−Person</text>
<rect x="188.8" y="11.45" width="8.2" height="13.65" fill="#b5b9b9" stroke="#000" stroke-width="1.1"/>
<circle cx="192.9" cy="18.2" r="3.25" fill="#000"/>
<text x="203.9" y="24" font-size="16.1" textLength="98.2" fill="#000">Third−Person</text>
<path d="M459.17,331.62 L459.08,329.84 L458.99,328.06 L458.89,326.28 L458.79,324.49 L458.68,322.71 L458.58,320.93 L458.46,319.14 L458.35,317.36 L458.23,315.58 L458.11,313.79 L457.98,312.01 L457.85,310.23 L457.72,308.44 L457.58,306.66 L457.44,304.88 L457.3,303.09 L457.15,301.31 L456.99,299.53 L456.83,297.74 L456.67,295.96 L456.51,294.18 L456.34,292.4 L456.16,290.61 L455.98,288.83 L455.8,287.05 L455.62,285.26 L455.43,283.48 L455.24,281.7 L455.04,279.91 L454.85,278.13 L454.64,276.35 L454.44,274.56 L454.23,272.78 L454.02,271 L453.81,269.21 L453.59,267.43 L453.37,265.65 L453.15,263.86 L452.92,262.08 L452.69,260.3 L452.46,258.51 L452.23,256.73 L451.99,254.95 L451.76,253.17 L451.52,251.38 L451.28,249.6 L451.04,247.82 L450.8,246.03 L450.57,244.25 L450.33,242.47 L450.1,240.68 L449.87,238.9 L449.65,237.12 L449.43,235.33 L449.22,233.55 L449.02,231.77 L448.82,229.98 L448.64,228.2 L448.47,226.42 L448.31,224.63 L448.16,222.85 L448.03,221.07 L447.92,219.28 L447.82,217.5 L447.74,215.72 L447.67,213.94 L447.63,212.15 L447.6,210.37 L447.59,208.59 L447.59,206.8 L447.62,205.02 L447.66,203.24 L447.72,201.45 L447.79,199.67 L447.87,197.89 L447.97,196.1 L448.07,194.32 L448.19,192.54 L448.31,190.75 L448.44,188.97 L448.58,187.19 L448.71,185.4 L448.85,183.62 L448.98,181.84 L449.11,180.06 L449.24,178.27 L449.36,176.49 L449.47,174.71 L449.57,172.92 L449.67,171.14 L449.75,169.36 L449.83,167.57 L449.89,165.79 L449.94,164.01 L449.98,162.22 L450.01,160.44 L450.03,158.66 L450.04,156.87 L450.04,155.09 L450.03,153.31 L450.02,151.52 L450,149.74 L449.97,147.96 L449.94,146.17 L449.91,144.39 L449.88,142.61 L449.85,140.83 L449.82,139.04 L449.79,137.26 L449.77,135.48 L449.76,133.69 L449.75,131.91 L449.75,130.13 L449.75,128.34 L449.77,126.56 L449.79,124.78 L449.83,122.99 L449.88,121.21 L449.93,119.43 L450,117.64 L450.08,115.86 L450.17,114.08 L450.27,112.29 L450.38,110.51 L450.51,108.73 L450.64,106.94 L450.78,105.16 L450.93,103.38 L451.09,101.6 L451.26,99.81 L451.43,98.03 L451.61,96.25 L451.8,94.46 L451.99,92.68 L452.18,90.9 L452.38,89.11 L452.59,87.33 L452.79,85.55 L453,83.76 L453.21,81.98 L453.42,80.2 L453.64,78.41 L453.85,76.63 L454.06,74.85 L454.27,73.06 L454.49,71.28 L454.7,69.5 L454.91,67.71 L455.12,65.93 L455.33,64.15 L455.54,62.37 L455.74,60.58 L455.94,58.8 L456.15,57.02 L456.34,55.23 L456.54,53.45 L456.74,51.67 L456.93,49.88 L457.12,48.1 L464.7,48.1 L464.89,49.88 L465.08,51.67 L465.28,53.45 L465.47,55.23 L465.67,57.02 L465.87,58.8 L466.08,60.58 L466.28,62.37 L466.49,64.15 L466.7,65.93 L466.91,67.71 L467.12,69.5 L467.33,71.28 L467.54,73.06 L467.76,74.85 L467.97,76.63 L468.18,78.41 L468.39,80.2 L468.61,81.98 L468.82,83.76 L469.02,85.55 L469.23,87.33 L469.43,89.11 L469.63,90.9 L469.83,92.68 L470.02,94.46 L470.21,96.25 L470.39,98.03 L470.56,99.81 L470.73,101.6 L470.89,103.38 L471.04,105.16 L471.18,106.94 L471.31,108.73 L471.43,110.51 L471.55,112.29 L471.65,114.08 L471.74,115.86 L471.82,117.64 L471.89,119.43 L471.94,121.21 L471.99,122.99 L472.03,124.78 L472.05,126.56 L472.07,128.34 L472.07,130.13 L472.07,131.91 L472.06,133.69 L472.05,135.48 L472.02,137.26 L472,139.04 L471.97,140.83 L471.94,142.61 L471.91,144.39 L471.88,146.17 L471.85,147.96 L471.82,149.74 L471.8,151.52 L471.79,153.31 L471.78,155.09 L471.78,156.87 L471.79,158.66 L471.81,160.44 L471.84,162.22 L471.88,164.01 L471.93,165.79 L471.99,167.57 L472.07,169.36 L472.15,171.14 L472.24,172.92 L472.35,174.71 L472.46,176.49 L472.58,178.27 L472.71,180.06 L472.84,181.84 L472.97,183.62 L473.11,185.4 L473.24,187.19 L473.37,188.97 L473.5,190.75 L473.63,192.54 L473.74,194.32 L473.85,196.1 L473.95,197.89 L474.03,199.67 L474.1,201.45 L474.16,203.24 L474.2,205.02 L474.22,206.8 L474.23,208.59 L474.22,210.37 L474.19,212.15 L474.14,213.94 L474.08,215.72 L474,217.5 L473.9,219.28 L473.78,221.07 L473.65,222.85 L473.51,224.63 L473.35,226.42 L473.18,228.2 L473,229.98 L472.8,231.77 L472.6,233.55 L472.39,235.33 L472.17,237.12 L471.95,238.9 L471.72,240.68 L471.49,242.47 L471.25,244.25 L471.02,246.03 L470.78,247.82 L470.54,249.6 L470.3,251.38 L470.06,253.17 L469.83,254.95 L469.59,256.73 L469.36,258.51 L469.13,260.3 L468.9,262.08 L468.67,263.86 L468.45,265.65 L468.23,267.43 L468.01,269.21 L467.8,271 L467.59,272.78 L467.38,274.56 L467.17,276.35 L466.97,278.13 L466.77,279.91 L466.58,281.7 L466.39,283.48 L466.2,285.26 L466.01,287.05 L465.83,288.83 L465.66,290.61 L465.48,292.4 L465.31,294.18 L465.15,295.96 L464.98,297.74 L464.83,299.53 L464.67,301.31 L464.52,303.09 L464.38,304.88 L464.23,306.66 L464.1,308.44 L463.96,310.23 L463.83,312.01 L463.71,313.79 L463.59,315.58 L463.47,317.36 L463.35,319.14 L463.24,320.93 L463.14,322.71 L463.03,324.49 L462.93,326.28 L462.83,328.06 L462.74,329.84 L462.65,331.62Z" fill="#f3f2f0" stroke="#000" stroke-width="1.3" stroke-linejoin="round"/>
<path d="M512.1,280.07 L511.9,278.62 L511.7,277.16 L511.5,275.7 L511.29,274.24 L511.09,272.78 L510.88,271.32 L510.68,269.86 L510.48,268.4 L510.28,266.94 L510.08,265.49 L509.88,264.03 L509.69,262.57 L509.5,261.11 L509.32,259.65 L509.14,258.19 L508.97,256.73 L508.8,255.27 L508.65,253.81 L508.49,252.35 L508.35,250.9 L508.21,249.44 L508.07,247.98 L507.95,246.52 L507.83,245.06 L507.72,243.6 L507.61,242.14 L507.51,240.68 L507.42,239.22 L507.33,237.77 L507.25,236.31 L507.17,234.85 L507.09,233.39 L507.02,231.93 L506.95,230.47 L506.88,229.01 L506.82,227.55 L506.75,226.09 L506.68,224.63 L506.61,223.18 L506.55,221.72 L506.48,220.26 L506.4,218.8 L506.32,217.34 L506.24,215.88 L506.16,214.42 L506.07,212.96 L505.98,211.5 L505.88,210.04 L505.78,208.59 L505.67,207.13 L505.56,205.67 L505.44,204.21 L505.32,202.75 L505.2,201.29 L505.07,199.83 L504.94,198.37 L504.81,196.91 L504.67,195.46 L504.54,194 L504.4,192.54 L504.27,191.08 L504.14,189.62 L504.01,188.16 L503.89,186.7 L503.76,185.24 L503.65,183.78 L503.54,182.32 L503.43,180.87 L503.33,179.41 L503.24,177.95 L503.16,176.49 L503.09,175.03 L503.02,173.57 L502.96,172.11 L502.91,170.65 L502.87,169.19 L502.84,167.73 L502.82,166.28 L502.81,164.82 L502.8,163.36 L502.8,161.9 L502.81,160.44 L502.82,158.98 L502.84,157.52 L502.87,156.06 L502.9,154.6 L502.94,153.15 L502.98,151.69 L503.02,150.23 L503.06,148.77 L503.11,147.31 L503.15,145.85 L503.2,144.39 L503.25,142.93 L503.29,141.47 L503.34,140.01 L503.39,138.56 L503.43,137.1 L503.47,135.64 L503.51,134.18 L503.55,132.72 L503.59,131.26 L503.63,129.8 L503.67,128.34 L503.7,126.88 L503.74,125.42 L503.77,123.97 L503.81,122.51 L503.85,121.05 L503.88,119.59 L503.92,118.13 L503.97,116.67 L504.01,115.21 L504.06,113.75 L504.11,112.29 L504.16,110.84 L504.22,109.38 L504.29,107.92 L504.36,106.46 L504.43,105 L504.51,103.54 L504.59,102.08 L504.68,100.62 L504.77,99.16 L504.87,97.7 L504.97,96.25 L505.08,94.79 L505.19,93.33 L505.31,91.87 L505.42,90.41 L505.54,88.95 L505.67,87.49 L505.79,86.03 L505.92,84.57 L506.04,83.12 L506.17,81.66 L506.3,80.2 L506.43,78.74 L506.56,77.28 L506.69,75.82 L506.81,74.36 L506.94,72.9 L507.07,71.44 L507.2,69.98 L507.33,68.53 L507.46,67.07 L507.59,65.61 L507.72,64.15 L507.85,62.69 L507.98,61.23 L508.12,59.77 L508.25,58.31 L508.39,56.85 L508.54,55.39 L508.68,53.94 L508.83,52.48 L508.99,51.02 L509.15,49.56 L509.31,48.1 L522.73,48.1 L522.89,49.56 L523.05,51.02 L523.2,52.48 L523.35,53.94 L523.5,55.39 L523.64,56.85 L523.78,58.31 L523.92,59.77 L524.05,61.23 L524.19,62.69 L524.32,64.15 L524.45,65.61 L524.58,67.07 L524.71,68.53 L524.84,69.98 L524.96,71.44 L525.09,72.9 L525.22,74.36 L525.35,75.82 L525.48,77.28 L525.61,78.74 L525.74,80.2 L525.87,81.66 L525.99,83.12 L526.12,84.57 L526.25,86.03 L526.37,87.49 L526.49,88.95 L526.61,90.41 L526.73,91.87 L526.85,93.33 L526.96,94.79 L527.06,96.25 L527.16,97.7 L527.26,99.16 L527.36,100.62 L527.44,102.08 L527.53,103.54 L527.61,105 L527.68,106.46 L527.75,107.92 L527.81,109.38 L527.87,110.84 L527.93,112.29 L527.98,113.75 L528.03,115.21 L528.07,116.67 L528.11,118.13 L528.15,119.59 L528.19,121.05 L528.23,122.51 L528.26,123.97 L528.3,125.42 L528.33,126.88 L528.37,128.34 L528.41,129.8 L528.44,131.26 L528.48,132.72 L528.52,134.18 L528.56,135.64 L528.61,137.1 L528.65,138.56 L528.7,140.01 L528.74,141.47 L528.79,142.93 L528.84,144.39 L528.88,145.85 L528.93,147.31 L528.97,148.77 L529.02,150.23 L529.06,151.69 L529.1,153.15 L529.13,154.6 L529.17,156.06 L529.19,157.52 L529.21,158.98 L529.23,160.44 L529.24,161.9 L529.24,163.36 L529.23,164.82 L529.22,166.28 L529.19,167.73 L529.16,169.19 L529.12,170.65 L529.07,172.11 L529.02,173.57 L528.95,175.03 L528.88,176.49 L528.79,177.95 L528.7,179.41 L528.6,180.87 L528.5,182.32 L528.39,183.78 L528.27,185.24 L528.15,186.7 L528.03,188.16 L527.9,189.62 L527.76,191.08 L527.63,192.54 L527.5,194 L527.36,195.46 L527.23,196.91 L527.1,198.37 L526.97,199.83 L526.84,201.29 L526.72,202.75 L526.6,204.21 L526.48,205.67 L526.37,207.13 L526.26,208.59 L526.16,210.04 L526.06,211.5 L525.97,212.96 L525.88,214.42 L525.79,215.88 L525.71,217.34 L525.63,218.8 L525.56,220.26 L525.49,221.72 L525.42,223.18 L525.35,224.63 L525.29,226.09 L525.22,227.55 L525.15,229.01 L525.09,230.47 L525.02,231.93 L524.94,233.39 L524.87,234.85 L524.79,236.31 L524.71,237.77 L524.62,239.22 L524.52,240.68 L524.42,242.14 L524.32,243.6 L524.21,245.06 L524.09,246.52 L523.96,247.98 L523.83,249.44 L523.69,250.9 L523.54,252.35 L523.39,253.81 L523.23,255.27 L523.07,256.73 L522.89,258.19 L522.72,259.65 L522.53,261.11 L522.35,262.57 L522.15,264.03 L521.96,265.49 L521.76,266.94 L521.56,268.4 L521.36,269.86 L521.15,271.32 L520.95,272.78 L520.74,274.24 L520.54,275.7 L520.34,277.16 L520.13,278.62 L519.94,280.07Z" fill="#81999a" stroke="#000" stroke-width="1.3" stroke-linejoin="round"/>
<path d="M592.84,357.4 L592.6,355.45 L592.38,353.51 L592.18,351.56 L591.99,349.62 L591.81,347.67 L591.65,345.73 L591.5,343.78 L591.36,341.84 L591.24,339.89 L591.14,337.95 L591.04,336 L590.96,334.06 L590.88,332.11 L590.82,330.17 L590.76,328.22 L590.71,326.28 L590.67,324.33 L590.63,322.38 L590.6,320.44 L590.56,318.49 L590.53,316.55 L590.51,314.6 L590.48,312.66 L590.45,310.71 L590.42,308.77 L590.38,306.82 L590.35,304.88 L590.31,302.93 L590.26,300.99 L590.22,299.04 L590.16,297.1 L590.1,295.15 L590.03,293.21 L589.96,291.26 L589.88,289.32 L589.79,287.37 L589.7,285.42 L589.6,283.48 L589.49,281.53 L589.38,279.59 L589.26,277.64 L589.14,275.7 L589,273.75 L588.87,271.81 L588.72,269.86 L588.58,267.92 L588.42,265.97 L588.26,264.03 L588.1,262.08 L587.93,260.14 L587.74,258.19 L587.56,256.25 L587.36,254.3 L587.15,252.35 L586.93,250.41 L586.69,248.46 L586.44,246.52 L586.18,244.57 L585.9,242.63 L585.61,240.68 L585.3,238.74 L584.98,236.79 L584.65,234.85 L584.31,232.9 L583.96,230.96 L583.62,229.01 L583.28,227.07 L582.94,225.12 L582.63,223.18 L582.33,221.23 L582.07,219.28 L581.84,217.34 L581.66,215.39 L581.52,213.45 L581.44,211.5 L581.42,209.56 L581.47,207.61 L581.58,205.67 L581.76,203.72 L582.01,201.78 L582.33,199.83 L582.72,197.89 L583.16,195.94 L583.67,194 L584.22,192.05 L584.82,190.11 L585.45,188.16 L586.11,186.22 L586.78,184.27 L587.47,182.32 L588.16,180.38 L588.84,178.43 L589.5,176.49 L590.15,174.54 L590.76,172.6 L591.35,170.65 L591.89,168.71 L592.4,166.76 L592.86,164.82 L593.29,162.87 L593.67,160.93 L594,158.98 L594.3,157.04 L594.55,155.09 L594.77,153.15 L594.96,151.2 L595.11,149.25 L595.24,147.31 L595.34,145.36 L595.42,143.42 L595.48,141.47 L595.52,139.53 L595.55,137.58 L595.58,135.64 L595.59,133.69 L595.6,131.75 L595.61,129.8 L595.61,127.86 L595.61,125.91 L595.61,123.97 L595.62,122.02 L595.62,120.08 L595.62,118.13 L595.63,116.18 L595.63,114.24 L595.64,112.29 L595.64,110.35 L595.65,108.4 L595.65,106.46 L595.66,104.51 L595.66,102.57 L595.66,100.62 L595.67,98.68 L595.67,96.73 L595.67,94.79 L595.67,92.84 L595.67,90.9 L595.67,88.95 L595.67,87.01 L595.67,85.06 L595.68,83.12 L595.69,81.17 L595.7,79.22 L595.72,77.28 L595.74,75.33 L595.77,73.39 L595.81,71.44 L595.85,69.5 L595.9,67.55 L595.95,65.61 L596.02,63.66 L596.09,61.72 L596.16,59.77 L596.25,57.83 L596.33,55.88 L596.43,53.94 L596.52,51.99 L596.62,50.05 L596.73,48.1 L600.64,48.1 L600.74,50.05 L600.84,51.99 L600.94,53.94 L601.03,55.88 L601.12,57.83 L601.2,59.77 L601.28,61.72 L601.35,63.66 L601.41,65.61 L601.47,67.55 L601.51,69.5 L601.56,71.44 L601.59,73.39 L601.62,75.33 L601.65,77.28 L601.66,79.22 L601.68,81.17 L601.69,83.12 L601.69,85.06 L601.7,87.01 L601.7,88.95 L601.7,90.9 L601.7,92.84 L601.7,94.79 L601.7,96.73 L601.7,98.68 L601.7,100.62 L601.7,102.57 L601.71,104.51 L601.71,106.46 L601.72,108.4 L601.72,110.35 L601.73,112.29 L601.73,114.24 L601.74,116.18 L601.74,118.13 L601.74,120.08 L601.75,122.02 L601.75,123.97 L601.75,125.91 L601.75,127.86 L601.76,129.8 L601.76,131.75 L601.77,133.69 L601.79,135.64 L601.81,137.58 L601.84,139.53 L601.89,141.47 L601.95,143.42 L602.03,145.36 L602.13,147.31 L602.25,149.25 L602.41,151.2 L602.59,153.15 L602.81,155.09 L603.07,157.04 L603.36,158.98 L603.7,160.93 L604.08,162.87 L604.5,164.82 L604.96,166.76 L605.47,168.71 L606.02,170.65 L606.6,172.6 L607.22,174.54 L607.86,176.49 L608.53,178.43 L609.21,180.38 L609.89,182.32 L610.58,184.27 L611.26,186.22 L611.91,188.16 L612.55,190.11 L613.14,192.05 L613.7,194 L614.2,195.94 L614.65,197.89 L615.03,199.83 L615.35,201.78 L615.6,203.72 L615.78,205.67 L615.9,207.61 L615.94,209.56 L615.92,211.5 L615.84,213.45 L615.71,215.39 L615.52,217.34 L615.29,219.28 L615.03,221.23 L614.74,223.18 L614.42,225.12 L614.09,227.07 L613.75,229.01 L613.4,230.96 L613.05,232.9 L612.71,234.85 L612.38,236.79 L612.06,238.74 L611.75,240.68 L611.46,242.63 L611.18,244.57 L610.92,246.52 L610.67,248.46 L610.44,250.41 L610.22,252.35 L610.01,254.3 L609.81,256.25 L609.62,258.19 L609.44,260.14 L609.27,262.08 L609.1,264.03 L608.94,265.97 L608.79,267.92 L608.64,269.86 L608.5,271.81 L608.36,273.75 L608.23,275.7 L608.1,277.64 L607.98,279.59 L607.87,281.53 L607.76,283.48 L607.66,285.42 L607.57,287.37 L607.48,289.32 L607.4,291.26 L607.33,293.21 L607.26,295.15 L607.2,297.1 L607.15,299.04 L607.1,300.99 L607.05,302.93 L607.02,304.88 L606.98,306.82 L606.95,308.77 L606.92,310.71 L606.89,312.66 L606.86,314.6 L606.83,316.55 L606.8,318.49 L606.77,320.44 L606.73,322.38 L606.69,324.33 L606.65,326.28 L606.6,328.22 L606.55,330.17 L606.48,332.11 L606.41,334.06 L606.32,336 L606.23,337.95 L606.12,339.89 L606,341.84 L605.87,343.78 L605.72,345.73 L605.56,347.67 L605.38,349.62 L605.19,351.56 L604.98,353.51 L604.76,355.45 L604.53,357.4Z" fill="#f3f2f0" stroke="#000" stroke-width="1.3" stroke-linejoin="round"/>
<path d="M643.59,357.4 L643.38,355.78 L643.19,354.16 L643.01,352.54 L642.86,350.92 L642.73,349.29 L642.61,347.67 L642.5,346.05 L642.41,344.43 L642.33,342.81 L642.25,341.19 L642.18,339.57 L642.12,337.95 L642.06,336.33 L641.99,334.71 L641.93,333.08 L641.86,331.46 L641.78,329.84 L641.71,328.22 L641.63,326.6 L641.54,324.98 L641.45,323.36 L641.36,321.74 L641.26,320.12 L641.16,318.49 L641.06,316.87 L640.96,315.25 L640.87,313.63 L640.77,312.01 L640.68,310.39 L640.6,308.77 L640.53,307.15 L640.46,305.53 L640.4,303.9 L640.34,302.28 L640.3,300.66 L640.26,299.04 L640.24,297.42 L640.22,295.8 L640.2,294.18 L640.2,292.56 L640.19,290.94 L640.2,289.32 L640.2,287.69 L640.2,286.07 L640.21,284.45 L640.22,282.83 L640.22,281.21 L640.22,279.59 L640.22,277.97 L640.22,276.35 L640.21,274.73 L640.21,273.1 L640.19,271.48 L640.18,269.86 L640.16,268.24 L640.15,266.62 L640.13,265 L640.11,263.38 L640.09,261.76 L640.08,260.14 L640.07,258.51 L640.06,256.89 L640.05,255.27 L640.06,253.65 L640.06,252.03 L640.08,250.41 L640.1,248.79 L640.13,247.17 L640.16,245.55 L640.21,243.93 L640.26,242.3 L640.32,240.68 L640.38,239.06 L640.46,237.44 L640.54,235.82 L640.63,234.2 L640.73,232.58 L640.83,230.96 L640.94,229.34 L641.06,227.71 L641.18,226.09 L641.31,224.47 L641.45,222.85 L641.6,221.23 L641.75,219.61 L641.91,217.99 L642.08,216.37 L642.25,214.75 L642.44,213.12 L642.63,211.5 L642.83,209.88 L643.03,208.26 L643.25,206.64 L643.47,205.02 L643.7,203.4 L643.94,201.78 L644.18,200.16 L644.43,198.54 L644.69,196.91 L644.96,195.29 L645.22,193.67 L645.5,192.05 L645.77,190.43 L646.05,188.81 L646.33,187.19 L646.6,185.57 L646.88,183.95 L647.16,182.32 L647.43,180.7 L647.7,179.08 L647.97,177.46 L648.23,175.84 L648.49,174.22 L648.74,172.6 L648.98,170.98 L649.22,169.36 L649.45,167.73 L649.67,166.11 L649.88,164.49 L650.09,162.87 L650.28,161.25 L650.47,159.63 L650.65,158.01 L650.82,156.39 L650.98,154.77 L651.14,153.15 L651.29,151.52 L651.42,149.9 L651.55,148.28 L651.68,146.66 L651.79,145.04 L651.9,143.42 L652,141.8 L652.09,140.18 L652.17,138.56 L652.25,136.93 L652.32,135.31 L652.39,133.69 L652.44,132.07 L652.5,130.45 L652.54,128.83 L652.58,127.21 L652.61,125.59 L652.64,123.97 L652.67,122.34 L652.69,120.72 L652.7,119.1 L652.72,117.48 L652.73,115.86 L652.74,114.24 L652.75,112.62 L652.75,111 L652.76,109.38 L652.76,107.76 L652.77,106.13 L652.78,104.51 L652.79,102.89 L652.8,101.27 L652.81,99.65 L654.77,99.65 L654.78,101.27 L654.79,102.89 L654.8,104.51 L654.81,106.13 L654.82,107.76 L654.82,109.38 L654.83,111 L654.84,112.62 L654.84,114.24 L654.85,115.86 L654.86,117.48 L654.88,119.1 L654.9,120.72 L654.92,122.34 L654.94,123.97 L654.97,125.59 L655,127.21 L655.04,128.83 L655.09,130.45 L655.14,132.07 L655.2,133.69 L655.26,135.31 L655.33,136.93 L655.41,138.56 L655.49,140.18 L655.58,141.8 L655.68,143.42 L655.79,145.04 L655.91,146.66 L656.03,148.28 L656.16,149.9 L656.3,151.52 L656.44,153.15 L656.6,154.77 L656.76,156.39 L656.93,158.01 L657.11,159.63 L657.3,161.25 L657.49,162.87 L657.7,164.49 L657.91,166.11 L658.13,167.73 L658.36,169.36 L658.6,170.98 L658.84,172.6 L659.09,174.22 L659.35,175.84 L659.61,177.46 L659.88,179.08 L660.15,180.7 L660.42,182.32 L660.7,183.95 L660.98,185.57 L661.26,187.19 L661.53,188.81 L661.81,190.43 L662.09,192.05 L662.36,193.67 L662.63,195.29 L662.89,196.91 L663.15,198.54 L663.4,200.16 L663.64,201.78 L663.88,203.4 L664.11,205.02 L664.34,206.64 L664.55,208.26 L664.76,209.88 L664.96,211.5 L665.15,213.12 L665.33,214.75 L665.5,216.37 L665.67,217.99 L665.83,219.61 L665.98,221.23 L666.13,222.85 L666.27,224.47 L666.4,226.09 L666.52,227.71 L666.64,229.34 L666.75,230.96 L666.86,232.58 L666.95,234.2 L667.04,235.82 L667.12,237.44 L667.2,239.06 L667.27,240.68 L667.32,242.3 L667.38,243.93 L667.42,245.55 L667.46,247.17 L667.48,248.79 L667.5,250.41 L667.52,252.03 L667.53,253.65 L667.53,255.27 L667.52,256.89 L667.52,258.51 L667.5,260.14 L667.49,261.76 L667.47,263.38 L667.45,265 L667.44,266.62 L667.42,268.24 L667.4,269.86 L667.39,271.48 L667.38,273.1 L667.37,274.73 L667.36,276.35 L667.36,277.97 L667.36,279.59 L667.36,281.21 L667.37,282.83 L667.37,284.45 L667.38,286.07 L667.38,287.69 L667.39,289.32 L667.39,290.94 L667.38,292.56 L667.38,294.18 L667.36,295.8 L667.34,297.42 L667.32,299.04 L667.28,300.66 L667.24,302.28 L667.19,303.9 L667.13,305.53 L667.06,307.15 L666.98,308.77 L666.9,310.39 L666.81,312.01 L666.72,313.63 L666.62,315.25 L666.52,316.87 L666.42,318.49 L666.32,320.12 L666.23,321.74 L666.13,323.36 L666.04,324.98 L665.96,326.6 L665.87,328.22 L665.8,329.84 L665.72,331.46 L665.66,333.08 L665.59,334.71 L665.53,336.33 L665.46,337.95 L665.4,339.57 L665.33,341.19 L665.25,342.81 L665.17,344.43 L665.08,346.05 L664.98,347.67 L664.86,349.29 L664.72,350.92 L664.57,352.54 L664.4,354.16 L664.2,355.78 L663.99,357.4Z" fill="#81999a" stroke="#000" stroke-width="1.3" stroke-linejoin="round"/>
<g fill="rgba(244,242,240,0.65)" stroke="rgba(115,115,115,0.78)" stroke-width="0.6">
<circle cx="457.83" cy="48.1" r="2.98"/>
<circle cx="463.99" cy="48.1" r="2.98"/>
<circle cx="454.75" cy="73.88" r="2.98"/>
<circle cx="460.91" cy="73.88" r="2.98"/>
<circle cx="467.07" cy="73.88" r="2.98"/>
<circle cx="448.59" cy="99.65" r="2.98"/>
<circle cx="454.75" cy="99.65" r="2.98"/>
<circle cx="460.91" cy="99.65" r="2.98"/>
<circle cx="467.07" cy="99.65" r="2.98"/>
<circle cx="473.23" cy="99.65" r="2.98"/>
<circle cx="442.43" cy="125.42" r="2.98"/>
<circle cx="448.59" cy="125.42" r="2.98"/>
<circle cx="454.75" cy="125.42" r="2.98"/>
<circle cx="460.91" cy="125.42" r="2.98"/>
<circle cx="467.07" cy="125.42" r="2.98"/>
<circle cx="473.23" cy="125.42" r="2.98"/>
<circle cx="479.39" cy="125.42" r="2.98"/>
<circle cx="448.59" cy="151.2" r="2.98"/>
<circle cx="454.75" cy="151.2" r="2.98"/>
<circle cx="460.91" cy="151.2" r="2.98"/>
<circle cx="467.07" cy="151.2" r="2.98"/>
<circle cx="473.23" cy="151.2" r="2.98"/>
<circle cx="454.75" cy="176.97" r="2.98"/>
<circle cx="460.91" cy="176.97" r="2.98"/>
<circle cx="467.07" cy="176.97" r="2.98"/>
<circle cx="433.19" cy="202.75" r="2.98"/>
<circle cx="439.35" cy="202.75" r="2.98"/>
<circle cx="445.51" cy="202.75" r="2.98"/>
<circle cx="451.67" cy="202.75" r="2.98"/>
<circle cx="457.83" cy="202.75" r="2.98"/>
<circle cx="463.99" cy="202.75" r="2.98"/>
<circle cx="470.15" cy="202.75" r="2.98"/>
<circle cx="476.31" cy="202.75" r="2.98"/>
<circle cx="482.47" cy="202.75" r="2.98"/>
<circle cx="488.63" cy="202.75" r="2.98"/>
<circle cx="445.51" cy="228.52" r="2.98"/>
<circle cx="451.67" cy="228.52" r="2.98"/>
<circle cx="457.83" cy="228.52" r="2.98"/>
<circle cx="463.99" cy="228.52" r="2.98"/>
<circle cx="470.15" cy="228.52" r="2.98"/>
<circle cx="476.31" cy="228.52" r="2.98"/>
<circle cx="451.67" cy="254.3" r="2.98"/>
<circle cx="457.83" cy="254.3" r="2.98"/>
<circle cx="463.99" cy="254.3" r="2.98"/>
<circle cx="470.15" cy="254.3" r="2.98"/>
<circle cx="454.75" cy="280.07" r="2.98"/>
<circle cx="460.91" cy="280.07" r="2.98"/>
<circle cx="467.07" cy="280.07" r="2.98"/>
<circle cx="460.91" cy="305.85" r="2.98"/>
<circle cx="460.91" cy="331.62" r="2.98"/>
</g>
<g fill="rgba(70,105,103,0.72)" stroke="rgba(50,80,78,0.6)" stroke-width="0.6">
<circle cx="500.62" cy="48.1" r="2.98"/>
<circle cx="506.78" cy="48.1" r="2.98"/>
<circle cx="512.94" cy="48.1" r="2.98"/>
<circle cx="519.1" cy="48.1" r="2.98"/>
<circle cx="525.26" cy="48.1" r="2.98"/>
<circle cx="531.42" cy="48.1" r="2.98"/>
<circle cx="512.94" cy="73.88" r="2.98"/>
<circle cx="519.1" cy="73.88" r="2.98"/>
<circle cx="494.46" cy="99.65" r="2.98"/>
<circle cx="500.62" cy="99.65" r="2.98"/>
<circle cx="506.78" cy="99.65" r="2.98"/>
<circle cx="512.94" cy="99.65" r="2.98"/>
<circle cx="519.1" cy="99.65" r="2.98"/>
<circle cx="525.26" cy="99.65" r="2.98"/>
<circle cx="531.42" cy="99.65" r="2.98"/>
<circle cx="537.58" cy="99.65" r="2.98"/>
<circle cx="503.7" cy="125.42" r="2.98"/>
<circle cx="509.86" cy="125.42" r="2.98"/>
<circle cx="516.02" cy="125.42" r="2.98"/>
<circle cx="522.18" cy="125.42" r="2.98"/>
<circle cx="528.34" cy="125.42" r="2.98"/>
<circle cx="500.62" cy="151.2" r="2.98"/>
<circle cx="506.78" cy="151.2" r="2.98"/>
<circle cx="512.94" cy="151.2" r="2.98"/>
<circle cx="519.1" cy="151.2" r="2.98"/>
<circle cx="525.26" cy="151.2" r="2.98"/>
<circle cx="531.42" cy="151.2" r="2.98"/>
<circle cx="491.38" cy="176.97" r="2.98"/>
<circle cx="497.54" cy="176.97" r="2.98"/>
<circle cx="503.7" cy="176.97" r="2.98"/>
<circle cx="509.86" cy="176.97" r="2.98"/>
<circle cx="516.02" cy="176.97" r="2.98"/>
<circle cx="522.18" cy="176.97" r="2.98"/>
<circle cx="528.34" cy="176.97" r="2.98"/>
<circle cx="534.5" cy="176.97" r="2.98"/>
<circle cx="540.66" cy="176.97" r="2.98"/>
<circle cx="509.86" cy="202.75" r="2.98"/>
<circle cx="516.02" cy="202.75" r="2.98"/>
<circle cx="522.18" cy="202.75" r="2.98"/>
<circle cx="503.7" cy="228.52" r="2.98"/>
<circle cx="509.86" cy="228.52" r="2.98"/>
<circle cx="516.02" cy="228.52" r="2.98"/>
<circle cx="522.18" cy="228.52" r="2.98"/>
<circle cx="528.34" cy="228.52" r="2.98"/>
<circle cx="503.7" cy="254.3" r="2.98"/>
<circle cx="509.86" cy="254.3" r="2.98"/>
<circle cx="516.02" cy="254.3" r="2.98"/>
<circle cx="522.18" cy="254.3" r="2.98"/>
<circle cx="528.34" cy="254.3" r="2.98"/>
<circle cx="516.02" cy="280.07" r="2.98"/>
</g>
<g fill="rgba(244,242,240,0.65)" stroke="rgba(115,115,115,0.78)" stroke-width="0.6">
<circle cx="598.68" cy="48.1" r="2.98"/>
<circle cx="595.6" cy="73.88" r="2.98"/>
<circle cx="601.76" cy="73.88" r="2.98"/>
<circle cx="598.68" cy="99.65" r="2.98"/>
<circle cx="595.6" cy="125.42" r="2.98"/>
<circle cx="601.76" cy="125.42" r="2.98"/>
<circle cx="598.68" cy="151.2" r="2.98"/>
<circle cx="598.68" cy="176.97" r="2.98"/>
<circle cx="555.56" cy="202.75" r="2.98"/>
<circle cx="561.72" cy="202.75" r="2.98"/>
<circle cx="567.88" cy="202.75" r="2.98"/>
<circle cx="574.04" cy="202.75" r="2.98"/>
<circle cx="580.2" cy="202.75" r="2.98"/>
<circle cx="586.36" cy="202.75" r="2.98"/>
<circle cx="592.52" cy="202.75" r="2.98"/>
<circle cx="598.68" cy="202.75" r="2.98"/>
<circle cx="604.84" cy="202.75" r="2.98"/>
<circle cx="611" cy="202.75" r="2.98"/>
<circle cx="617.16" cy="202.75" r="2.98"/>
<circle cx="623.32" cy="202.75" r="2.98"/>
<circle cx="629.48" cy="202.75" r="2.98"/>
<circle cx="635.64" cy="202.75" r="2.98"/>
<circle cx="641.8" cy="202.75" r="2.98"/>
<circle cx="586.36" cy="228.52" r="2.98"/>
<circle cx="592.52" cy="228.52" r="2.98"/>
<circle cx="598.68" cy="228.52" r="2.98"/>
<circle cx="604.84" cy="228.52" r="2.98"/>
<circle cx="611" cy="228.52" r="2.98"/>
<circle cx="583.28" cy="254.3" r="2.98"/>
<circle cx="589.44" cy="254.3" r="2.98"/>
<circle cx="595.6" cy="254.3" r="2.98"/>
<circle cx="601.76" cy="254.3" r="2.98"/>
<circle cx="607.92" cy="254.3" r="2.98"/>
<circle cx="614.08" cy="254.3" r="2.98"/>
<circle cx="589.44" cy="280.07" r="2.98"/>
<circle cx="595.6" cy="280.07" r="2.98"/>
<circle cx="601.76" cy="280.07" r="2.98"/>
<circle cx="607.92" cy="280.07" r="2.98"/>
<circle cx="589.44" cy="305.85" r="2.98"/>
<circle cx="595.6" cy="305.85" r="2.98"/>
<circle cx="601.76" cy="305.85" r="2.98"/>
<circle cx="607.92" cy="305.85" r="2.98"/>
<circle cx="589.44" cy="331.62" r="2.98"/>
<circle cx="595.6" cy="331.62" r="2.98"/>
<circle cx="601.76" cy="331.62" r="2.98"/>
<circle cx="607.92" cy="331.62" r="2.98"/>
<circle cx="589.44" cy="357.4" r="2.98"/>
<circle cx="595.6" cy="357.4" r="2.98"/>
<circle cx="601.76" cy="357.4" r="2.98"/>
<circle cx="607.92" cy="357.4" r="2.98"/>
</g>
<g fill="rgba(70,105,103,0.72)" stroke="rgba(50,80,78,0.6)" stroke-width="0.6">
<circle cx="653.79" cy="99.65" r="2.98"/>
<circle cx="653.79" cy="151.2" r="2.98"/>
<circle cx="650.71" cy="176.97" r="2.98"/>
<circle cx="656.87" cy="176.97" r="2.98"/>
<circle cx="638.39" cy="202.75" r="2.98"/>
<circle cx="644.55" cy="202.75" r="2.98"/>
<circle cx="650.71" cy="202.75" r="2.98"/>
<circle cx="656.87" cy="202.75" r="2.98"/>
<circle cx="663.03" cy="202.75" r="2.98"/>
<circle cx="669.19" cy="202.75" r="2.98"/>
<circle cx="638.39" cy="228.52" r="2.98"/>
<circle cx="644.55" cy="228.52" r="2.98"/>
<circle cx="650.71" cy="228.52" r="2.98"/>
<circle cx="656.87" cy="228.52" r="2.98"/>
<circle cx="663.03" cy="228.52" r="2.98"/>
<circle cx="669.19" cy="228.52" r="2.98"/>
<circle cx="632.23" cy="254.3" r="2.98"/>
<circle cx="638.39" cy="254.3" r="2.98"/>
<circle cx="644.55" cy="254.3" r="2.98"/>
<circle cx="650.71" cy="254.3" r="2.98"/>
<circle cx="656.87" cy="254.3" r="2.98"/>
<circle cx="663.03" cy="254.3" r="2.98"/>
<circle cx="669.19" cy="254.3" r="2.98"/>
<circle cx="675.35" cy="254.3" r="2.98"/>
<circle cx="641.47" cy="280.07" r="2.98"/>
<circle cx="647.63" cy="280.07" r="2.98"/>
<circle cx="653.79" cy="280.07" r="2.98"/>
<circle cx="659.95" cy="280.07" r="2.98"/>
<circle cx="666.11" cy="280.07" r="2.98"/>
<circle cx="629.15" cy="305.85" r="2.98"/>
<circle cx="635.31" cy="305.85" r="2.98"/>
<circle cx="641.47" cy="305.85" r="2.98"/>
<circle cx="647.63" cy="305.85" r="2.98"/>
<circle cx="653.79" cy="305.85" r="2.98"/>
<circle cx="659.95" cy="305.85" r="2.98"/>
<circle cx="666.11" cy="305.85" r="2.98"/>
<circle cx="672.27" cy="305.85" r="2.98"/>
<circle cx="678.43" cy="305.85" r="2.98"/>
<circle cx="647.63" cy="331.62" r="2.98"/>
<circle cx="653.79" cy="331.62" r="2.98"/>
<circle cx="659.95" cy="331.62" r="2.98"/>
<circle cx="629.15" cy="357.4" r="2.98"/>
<circle cx="635.31" cy="357.4" r="2.98"/>
<circle cx="641.47" cy="357.4" r="2.98"/>
<circle cx="647.63" cy="357.4" r="2.98"/>
<circle cx="653.79" cy="357.4" r="2.98"/>
<circle cx="659.95" cy="357.4" r="2.98"/>
<circle cx="666.11" cy="357.4" r="2.98"/>
<circle cx="672.27" cy="357.4" r="2.98"/>
<circle cx="678.43" cy="357.4" r="2.98"/>
</g>
<path d="M452.61,158.26H469.21M452.61,196.72H469.21M460.91,158.26V196.72" fill="none" stroke="#000" stroke-width="1"/>
<circle cx="460.91" cy="177.49" r="3.3" fill="#000"/>
<path d="M507.72,134.96H524.32M507.72,171.57H524.32M516.02,134.96V171.57" fill="none" stroke="#000" stroke-width="1"/>
<circle cx="516.02" cy="153.26" r="3.3" fill="#000"/>
<path d="M590.38,212.61H606.98M590.38,254.75H606.98M598.68,212.61V254.75" fill="none" stroke="#000" stroke-width="1"/>
<circle cx="598.68" cy="233.68" r="3.3" fill="#000"/>
<path d="M645.49,254.48H662.09M645.49,289.17H662.09M653.79,254.48V289.17" fill="none" stroke="#000" stroke-width="1"/>
<circle cx="653.79" cy="271.83" r="3.3" fill="#000"/>
<rect x="405.8" y="27.5" width="303.1" height="350.9" fill="none" stroke="#2e2e2e" stroke-width="0.85"/>
<path d="M405.8,27.5V378.4H708.9" fill="none" stroke="#1a1a1a" stroke-width="0.6"/>
<path d="M403,357.4H405.8M403,305.85H405.8M403,254.3H405.8M403,202.75H405.8M403,151.2H405.8M403,99.65H405.8M403,48.1H405.8M488.46,378.4V381.2M626.24,378.4V381.2" stroke="#333" stroke-width="0.8" fill="none"/>
<g font-size="16" fill="#000" text-anchor="end">
<text x="400.5" y="363.1">1</text>
<text x="400.5" y="311.55">2</text>
<text x="400.5" y="260">3</text>
<text x="400.5" y="208.45">4</text>
<text x="400.5" y="156.9">5</text>
<text x="400.5" y="105.35">6</text>
<text x="400.5" y="53.8">7</text>
</g>
<g font-size="16.2" fill="#000" text-anchor="middle">
<text x="488.46" y="395.2">Own Eyes</text>
<text x="626.24" y="395.2" textLength="68.4">Observer</text>
</g>
<text transform="translate(387.7,202.2) rotate(-90)" font-size="14.9" textLength="166.2" text-anchor="middle" fill="#000">Mean Perspective Rating</text>
<text x="379.6" y="16.9" font-size="20.6" fill="#000">B</text>
<rect x="469.5" y="8.15" width="8.2" height="13.65" fill="#f3f2f0" stroke="#000" stroke-width="1.1"/>
<circle cx="473.6" cy="14.9" r="2.8" fill="#000"/>
<text x="485" y="20.7" font-size="16.1" textLength="76.7" fill="#000">Immediate</text>
<rect x="569.3" y="8.15" width="8.2" height="13.65" fill="#81999a" stroke="#000" stroke-width="1.1"/>
<circle cx="573.4" cy="14.9" r="2.8" fill="#000"/>
<text x="584.5" y="20.7" font-size="16.1" textLength="59.3" fill="#000">Delayed</text>
</svg>
</body></html>
